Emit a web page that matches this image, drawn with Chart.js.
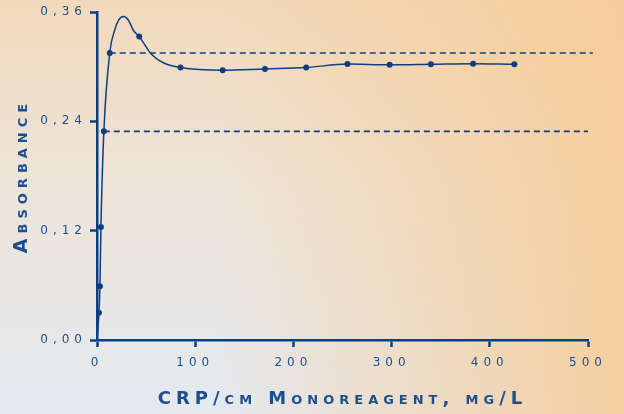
<!DOCTYPE html>
<html>
<head>
<meta charset="utf-8">
<script src="https://cdn.jsdelivr.net/npm/chart.js@4/dist/chart.umd.min.js"></script>
<style>
  html, body { margin: 0; padding: 0; }
  body {
    width: 624px; height: 414px; overflow: hidden;
    background:
      linear-gradient(to right, rgba(247, 204, 150, 0) 35%, rgba(247, 204, 150, 0.9) 100%),
      linear-gradient(to bottom, #f2d9bb 0%, #ede4d9 45%, #e4e9f0 100%);
  }
  canvas { display: block; }
</style>
</head>
<body>
<canvas id="crpChart" width="624" height="414"></canvas>
<script>
// measured points (concentration mg/L, absorbance)
const pointX = [2, 3, 4, 7, 13, 43, 85, 128, 171, 213, 255, 298, 340, 383, 425];
const pointY = [0.030, 0.059, 0.124, 0.229, 0.315, 0.333, 0.299, 0.296, 0.2975, 0.299, 0.303, 0.302, 0.3026, 0.3033, 0.3026];

// fitted curve
const curveX = [0, 2, 3, 4, 7, 13, 18, 22, 27, 32, 37, 43, 56, 68, 85, 128, 171, 213, 255, 298, 340, 383, 425];
const curveY = [0, 0.030, 0.059, 0.124, 0.229, 0.315, 0.340, 0.351, 0.355, 0.351, 0.340, 0.333, 0.313, 0.304, 0.299, 0.296, 0.2975, 0.299, 0.303, 0.302, 0.3026, 0.3033, 0.3026];

// dashed reference levels
const upperLineX = [13, 505];
const upperLineY = [0.315, 0.315];
const lowerLineX = [7, 500];
const lowerLineY = [0.229, 0.229];

const xTicks = [0, 100, 200, 300, 400, 500];
const xTickLabels = ['0', '100', '200', '300', '400', '500'];
const yTicks = [0, 0.12, 0.24, 0.36];
const yTickLabels = ['0,00', '0,12', '0,24', '0,36'];

const blue = '#0c3f82';
const textBlue = '#1d4f8e';

const toPoints = (xs, ys) => xs.map((x, i) => ({ x: x, y: ys[i] }));

// wide lettering like the original extended typeface
const spacingPlugin = {
  id: 'spacing',
  beforeLayout: (chart) => { chart.ctx.letterSpacing = '5px'; },
  beforeDraw: (chart) => { chart.ctx.letterSpacing = '5px'; },
};

const ctx = document.getElementById('crpChart').getContext('2d');
new Chart(ctx, {
  type: 'scatter',
  plugins: [spacingPlugin],
  data: {
    datasets: [
      {
        data: toPoints(upperLineX, upperLineY),
        showLine: true,
        borderColor: blue,
        borderWidth: 1.6,
        borderDash: [6, 4],
        pointRadius: 0,
        clip: false,
      },
      {
        data: toPoints(lowerLineX, lowerLineY),
        showLine: true,
        borderColor: blue,
        borderWidth: 1.6,
        borderDash: [6, 4],
        pointRadius: 0,
        clip: false,
      },
      {
        data: toPoints(curveX, curveY),
        showLine: true,
        borderColor: blue,
        borderWidth: 1.5,
        cubicInterpolationMode: 'monotone',
        pointRadius: 0,
        clip: false,
      },
      {
        data: toPoints(pointX, pointY),
        showLine: false,
        pointRadius: 3,
        pointBackgroundColor: blue,
        pointBorderWidth: 0,
        clip: false,
      },
    ],
  },
  options: {
    responsive: false,
    animation: false,
    layout: { padding: { top: 12, right: 36, left: 11, bottom: 4 } },
    plugins: {
      legend: { display: false },
      tooltip: { enabled: false },
    },
    scales: {
      x: {
        type: 'linear',
        min: 0,
        max: 500,
        afterFit: (scale) => { scale.height = 70; },
        afterBuildTicks: (scale) => { scale.ticks = xTicks.map((v) => ({ value: v })); },
        grid: { drawOnChartArea: false, drawTicks: true, tickLength: 7, tickColor: blue, tickWidth: 2.5 },
        border: { color: blue, width: 2.5 },
        ticks: {
          color: textBlue,
          padding: 9,
          maxRotation: 0,
          font: { family: "'DejaVu Sans'", size: 12 },
          callback: (v, i) => xTickLabels[i],
        },
        title: {
          display: true,
          text: 'CRP/cm Monoreagent, mg/L',
          color: textBlue,
          padding: 0,
          font: { family: "'DejaVu Sans'", size: 18, weight: 'small-caps bold' },
        },
      },
      y: {
        type: 'linear',
        min: 0,
        max: 0.36,
        afterFit: (scale) => { scale.width = 86; },
        afterBuildTicks: (scale) => { scale.ticks = yTicks.map((v) => ({ value: v })); },
        grid: { drawOnChartArea: false, drawTicks: true, tickLength: 7, tickColor: blue, tickWidth: 2.5 },
        border: { color: blue, width: 2.5 },
        ticks: {
          color: textBlue,
          padding: 3,
          font: { family: "'DejaVu Sans'", size: 12 },
          callback: (v, i) => yTickLabels[i],
        },
        title: {
          display: true,
          text: 'Absorbance',
          color: textBlue,
          padding: 0,
          font: { family: "'DejaVu Sans'", size: 19, weight: 'small-caps bold' },
        },
      },
    },
  },
});
</script>
</body>
</html>
